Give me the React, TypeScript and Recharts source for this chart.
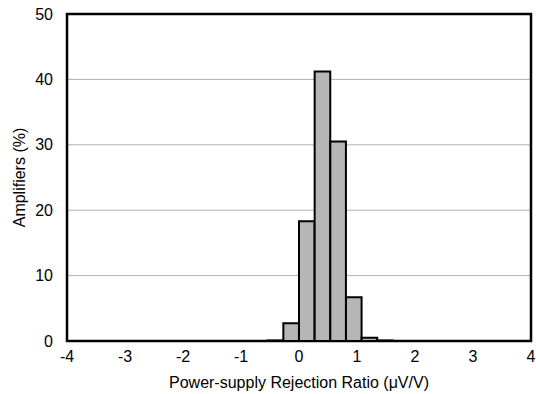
import React from "react";
import {
  ComposedChart,
  Bar,
  XAxis,
  YAxis,
  CartesianGrid,
  ReferenceArea,
} from "recharts";

const binCenters = [-0.405, -0.135, 0.135, 0.405, 0.675, 0.945, 1.215, 1.485];
const amplifiers = [0.08, 2.7, 18.3, 41.2, 30.5, 6.7, 0.5, 0.08];
const xTicks = [-4, -3, -2, -1, 0, 1, 2, 3, 4];
const yTicks = [0, 10, 20, 30, 40, 50];

const data = binCenters.map((x, i) => ({ x, pct: amplifiers[i] }));

const font = "'Liberation Sans', Arial, sans-serif";

export default function App() {
  return (
    <div style={{ position: "absolute", left: 0, top: 0, background: "#fff" }}>
      <ComposedChart
        width={536}
        height={394}
        data={data}
        margin={{ top: 14, right: 5, bottom: 0, left: 0 }}
      >
        <CartesianGrid vertical={false} stroke="#b0b0b0" strokeWidth={1} />
        <XAxis
          dataKey="x"
          type="number"
          domain={[-4, 4]}
          ticks={xTicks}
          tickLine={false}
          axisLine={false}
          interval={0}
          height={53}
          tick={{ fill: "#000", fontSize: 16, fontFamily: font }}
          tickMargin={4}
          label={{
            value: "Power-supply Rejection Ratio (μV/V)",
            position: "insideBottom",
            offset: 6,
            style: { fill: "#000", fontSize: 16, fontFamily: font },
          }}
        />
        <YAxis
          type="number"
          domain={[0, 50]}
          ticks={yTicks}
          tickLine={false}
          axisLine={false}
          width={67}
          tick={{ fill: "#000", fontSize: 16, fontFamily: font }}
          tickMargin={8}
          label={{
            value: "Amplifiers (%)",
            angle: -90,
            position: "insideLeft",
            offset: 19,
            style: { fill: "#000", fontSize: 16, fontFamily: font, textAnchor: "middle" },
          }}
        />
        <ReferenceArea
          x1={-4}
          x2={4}
          y1={0}
          y2={50}
          fill="none"
          stroke="#000"
          strokeWidth={2.5}
          ifOverflow="visible"
        />
        <Bar
          dataKey="pct"
          barSize={15.6}
          fill="#b6b6b6"
          stroke="#000"
          strokeWidth={2}
          isAnimationActive={false}
        />
      </ComposedChart>
    </div>
  );
}
